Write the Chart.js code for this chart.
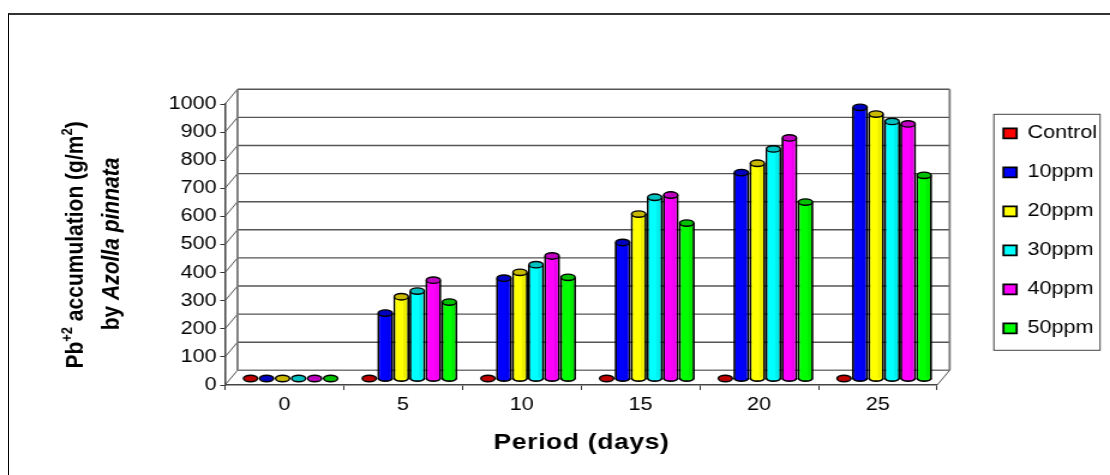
<!DOCTYPE html>
<html>
<head>
<meta charset="utf-8">
<title>Pb accumulation</title>
<script src="https://cdn.jsdelivr.net/npm/chart.js@4"></script>
<style>
  html, body { margin: 0; padding: 0; background: #fff; overflow: hidden; }
  /* the original picture is stretched sideways, so the chart is drawn narrow and scaled up */
  #wrap { position: absolute; left: 0; top: 0; width: 925px; height: 475px; transform: scaleX(1.2); transform-origin: 0 0; }
  #frame { position: absolute; left: 8px; top: 13px; right: 0; bottom: 0; border-left: 1px solid #000; border-top: 2px solid #333; }
</style>
</head>
<body>
<div id="frame"></div>
<div id="wrap"><canvas id="chart" width="925" height="475"></canvas></div>
<script>
var periods  = ['0', '5', '10', '15', '20', '25'];
var control  = [0, 0, 0, 0, 0, 0];
var ppm10    = [0, 233, 357, 484, 733, 965];
var ppm20    = [0, 291, 378, 585, 766, 941];
var ppm30    = [0, 311, 405, 645, 817, 915];
var ppm40    = [0, 350, 436, 653, 856, 906];
var ppm50    = [0, 272, 360, 553, 628, 723];
var seriesNames = ['Control', '10ppm', '20ppm', '30ppm', '40ppm', '50ppm'];
var seriesData  = [control, ppm10, ppm20, ppm30, ppm40, ppm50];
var barColors = ['#ff0000', '#0000ff', '#ffff00', '#00ffff', '#ff00ff', '#00ff00'];
var capColors = ['#c00000', '#0000c0', '#c8b800', '#00c0c0', '#c000c0', '#00c000'];

var xTitle = 'Period (days)';
var FONT = 'Arial, "Liberation Sans", sans-serif';

// depth of the fake 3D box, in canvas px (x is later stretched by 1.2)
var DEPTH_X = 10.4;
var DEPTH_Y = 14.7;
var WALL = '#777';

function wallLine(ctx, x0, y0, x1, y1, color, width) {
  ctx.beginPath();
  ctx.moveTo(x0, y0);
  ctx.lineTo(x1, y1);
  ctx.strokeStyle = color;
  ctx.lineWidth = width;
  ctx.stroke();
}

function drawSegments(ctx, segments, x, y) {
  // segments run along the rotated baseline, centred on y
  var total = 0;
  segments.forEach(function(s) { ctx.font = s.font; total += ctx.measureText(s.text).width; });
  ctx.save();
  ctx.translate(x, y);
  ctx.rotate(-Math.PI / 2);
  var pos = -total / 2;
  segments.forEach(function(s) {
    ctx.font = s.font;
    ctx.fillText(s.text, pos, -(s.raise || 0));
    pos += ctx.measureText(s.text).width;
  });
  ctx.restore();
}

var box3d = {
  id: 'box3d',
  afterLayout: function(chart) {
    // the legend sits away from the plot, so move it after the layout is done
    var lg = chart.legend;
    var w = lg.width, h = lg.height;
    lg.left = 815.2; lg.right = lg.left + w;
    lg.top = 103.3;  lg.bottom = lg.top + h;
  },
  beforeDraw: function(chart) {
    var ctx = chart.ctx;
    var first = chart.legend.legendHitBoxes[0];
    var left = first.left - 8, top = first.top - 10;
    ctx.save();
    ctx.strokeStyle = '#444';
    ctx.lineWidth = 1;
    ctx.strokeRect(left, top, 88.5, 236);
    ctx.restore();
  },
  beforeDatasetsDraw: function(chart) {
    var ctx = chart.ctx, a = chart.chartArea, y = chart.scales.y;
    ctx.save();
    y.ticks.forEach(function(t) {
      var py = y.getPixelForValue(t.value);
      wallLine(ctx, a.left, py, a.left + DEPTH_X, py - DEPTH_Y, '#555', 1);
      wallLine(ctx, a.left + DEPTH_X, py - DEPTH_Y, a.right + DEPTH_X, py - DEPTH_Y, t.value === 0 ? WALL : '#555', 1.4);
    });
    // back wall edges and the floor
    wallLine(ctx, a.left + DEPTH_X, a.top - DEPTH_Y, a.left + DEPTH_X, a.bottom - DEPTH_Y, WALL, 1.8);
    wallLine(ctx, a.right + DEPTH_X, a.top - DEPTH_Y, a.right + DEPTH_X, a.bottom - DEPTH_Y, WALL, 1.8);
    wallLine(ctx, a.right, a.bottom, a.right + DEPTH_X, a.bottom - DEPTH_Y, '#555', 1);
    ctx.restore();
    // bars stand in the middle of the floor depth
    ctx.save();
    ctx.translate(DEPTH_X / 2, -6.5);
  },
  afterDatasetsDraw: function(chart) {
    var ctx = chart.ctx;
    chart.data.datasets.forEach(function(ds, di) {
      chart.getDatasetMeta(di).data.forEach(function(bar) {
        var rx = bar.width / 2, ry = 3.2;
        if (bar.base - bar.y > 1) {
          // cylinder shade and the rounded foot
          ctx.fillStyle = 'rgba(0,0,0,0.07)';
          ctx.fillRect(bar.x + rx * 0.25, bar.y, rx * 0.55, bar.base - bar.y);
          ctx.beginPath();
          ctx.ellipse(bar.x, bar.base, rx - 0.8, ry, 0, 0, Math.PI);
          ctx.fillStyle = barColors[di];
          ctx.fill();
          ctx.strokeStyle = '#000';
          ctx.lineWidth = 1.8;
          ctx.stroke();
        }
        ctx.beginPath();
        ctx.ellipse(bar.x, bar.y, rx - 0.8, ry, 0, 0, Math.PI * 2);
        ctx.fillStyle = capColors[di];
        ctx.fill();
        ctx.strokeStyle = '#000';
        ctx.lineWidth = 1.4;
        ctx.stroke();
      });
    });
    ctx.restore();
  },
  afterDraw: function(chart) {
    var ctx = chart.ctx;
    ctx.save();
    ctx.fillStyle = '#000';
    ctx.textBaseline = 'alphabetic';
    ctx.textAlign = 'left';
    var big = 'bold 21px ' + FONT, small = 'bold 13px ' + FONT, ital = 'italic bold 21px ' + FONT;
    drawSegments(ctx, [
      { text: 'Pb', font: big },
      { text: '+2', font: small, raise: 9 },
      { text: ' accumulation (g/m', font: big },
      { text: '2', font: small, raise: 9 },
      { text: ')', font: big }
    ], 68.9, 245);
    drawSegments(ctx, [
      { text: 'by ', font: big },
      { text: 'Azolla pinnata', font: ital }
    ], 98.6, 244);
    ctx.textAlign = 'center';
    ctx.font = 'bold 22px ' + FONT;
    ctx.letterSpacing = '0.55px';
    ctx.fillText(xTitle, 484.6, 449);
    ctx.restore();
  }
};

new Chart(document.getElementById('chart'), {
  type: 'bar',
  data: {
    labels: periods,
    datasets: seriesNames.map(function(name, i) {
      return {
        label: name,
        data: seriesData[i],
        backgroundColor: barColors[i],
        borderColor: '#000',
        borderWidth: 1.8,
        borderSkipped: 'bottom',
        clip: false
      };
    })
  },
  plugins: [box3d],
  options: {
    responsive: false,
    animation: false,
    layout: { padding: { left: 0, top: 104, right: 35, bottom: 0 } },
    datasets: { bar: { categoryPercentage: 0.81, barPercentage: 1 } },
    plugins: {
      tooltip: { enabled: false },
      legend: {
        position: 'right',
        align: 'start',
        labels: {
          color: '#000',
          font: { family: FONT, size: 18 },
          boxWidth: 11,
          boxHeight: 10,
          padding: 21
        }
      }
    },
    scales: {
      x: {
        afterFit: function(s) { s.height = 90; },
        grid: { drawOnChartArea: false, color: '#333', tickLength: 5, offset: true },
        border: { color: '#444', width: 1.5 },
        ticks: { color: '#000', font: { family: FONT, size: 18 }, padding: 4, maxRotation: 0 }
      },
      y: {
        min: 0,
        max: 1000,
        afterFit: function(s) { s.width = 187.5; },
        grid: { drawOnChartArea: false, color: '#333', tickLength: 4 },
        border: { color: '#444', width: 1.5 },
        ticks: {
          stepSize: 100,
          color: '#000',
          font: { family: FONT, size: 18 },
          padding: 3,
          callback: function(v) { return String(v); }
        }
      }
    }
  }
});
</script>
</body>
</html>
